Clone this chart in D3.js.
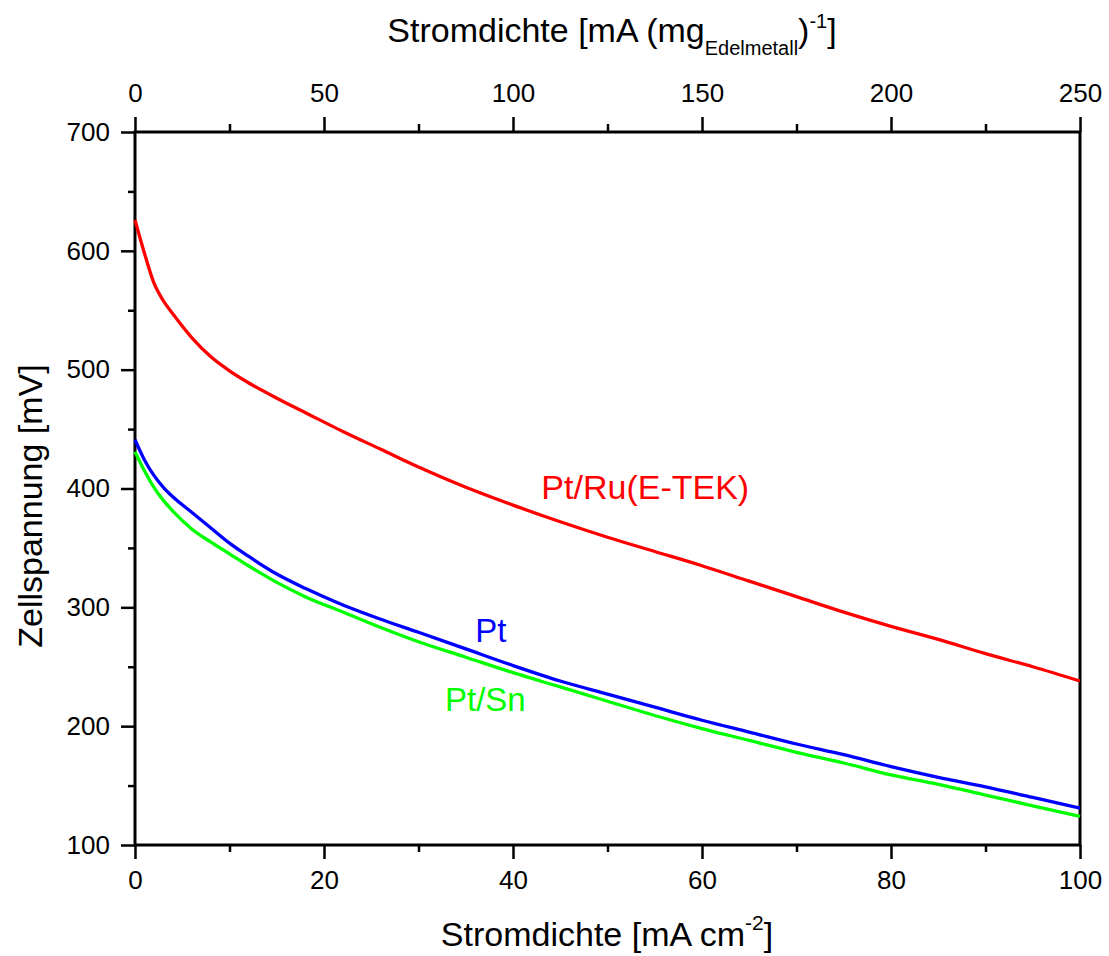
<!DOCTYPE html>
<html>
<head>
<meta charset="utf-8">
<script src="https://cdn.jsdelivr.net/npm/d3@7"></script>
<style>
  body { margin: 0; background: #fff; }
  svg text { font-family: Arial, "Liberation Sans", sans-serif; }
</style>
</head>
<body>
<div id="chart"></div>
<script>
// current density in mA cm^-2 (bottom axis)
var stromdichte = [0, 1, 2, 3, 4, 6, 8, 10, 12, 15, 18, 22, 26, 30, 35, 40, 45, 50, 55, 60, 65, 70, 75, 80, 85, 90, 95, 100];

// cell voltage in mV for each catalyst
var ptRu = [626, 598, 573, 558, 547, 527, 511, 499, 489, 476, 464, 448, 433, 418, 401, 386, 372, 359, 347, 335, 322, 309, 296, 284, 273, 261, 250, 238];
var pt   = [441, 424, 411, 401, 393, 380, 367, 354, 343, 328, 316, 302, 290, 279, 265, 251, 238, 227, 216, 205, 195, 185, 176, 166, 157, 149, 140, 131];
var ptSn = [431, 415, 401, 390, 381, 366, 355, 345, 335, 321, 309, 296, 283, 271, 258, 245, 233, 221, 209, 198, 188, 178, 169, 159, 151, 142, 133, 124];

var seriesNames = ["Pt/Ru(E-TEK)", "Pt", "Pt/Sn"];
var seriesColors = ["#ff0000", "#0000ff", "#00ff00"];
// where the curve labels sit, in data units
var labelPos = [[43, 391], [36, 271], [32.8, 213]];

var bottomTicks = [0, 20, 40, 60, 80, 100];
var bottomMinor = [10, 30, 50, 70, 90];
var topTicks = [0, 50, 100, 150, 200, 250];
var topMinor = [25, 75, 125, 175, 225];
var leftTicks = [100, 200, 300, 400, 500, 600, 700];
var leftMinor = [150, 250, 350, 450, 550, 650];

var width = 1109, height = 956;
var margin = {left: 135, top: 132, right: 29, bottom: 111};
var w = width - margin.left - margin.right,
    h = height - margin.top - margin.bottom;

var svg = d3.select("#chart").append("svg")
    .attr("width", width)
    .attr("height", height);

var g = svg.append("g").attr("transform", "translate(" + margin.left + "," + margin.top + ")");

var x = d3.scaleLinear().domain([0, 100]).range([0, w]);
var xTop = d3.scaleLinear().domain([0, 250]).range([0, w]);
var y = d3.scaleLinear().domain([100, 700]).range([h, 0]);

// axes: major ticks with labels, minor ticks without
function styleAxis(sel) {
    sel.select(".domain").remove();
    sel.selectAll("line").attr("stroke", "#000").attr("stroke-width", 2.5);
    sel.selectAll("text").attr("fill", "#000").style("font-size", "26px");
}

var gx = g.append("g").attr("transform", "translate(0," + h + ")")
    .call(d3.axisBottom(x).tickValues(bottomTicks).tickSize(14).tickFormat(d3.format("d")));
styleAxis(gx);
gx.selectAll("text").attr("dy", null).attr("y", 44);
var gx2 = g.append("g").attr("transform", "translate(0," + h + ")")
    .call(d3.axisBottom(x).tickValues(bottomMinor).tickSize(7).tickFormat(""));
styleAxis(gx2);

var gt = g.append("g")
    .call(d3.axisTop(xTop).tickValues(topTicks).tickSize(15).tickFormat(d3.format("d")));
styleAxis(gt);
gt.selectAll("text").attr("dy", null).attr("y", -30);
var gt2 = g.append("g")
    .call(d3.axisTop(xTop).tickValues(topMinor).tickSize(8).tickFormat(""));
styleAxis(gt2);

var gy = g.append("g")
    .call(d3.axisLeft(y).tickValues(leftTicks).tickSize(14).tickFormat(d3.format("d")));
styleAxis(gy);
gy.selectAll("text").attr("x", -25);
var gy2 = g.append("g")
    .call(d3.axisLeft(y).tickValues(leftMinor).tickSize(7).tickFormat(""));
styleAxis(gy2);

// frame
g.append("rect")
    .attr("width", w).attr("height", h)
    .attr("fill", "none").attr("stroke", "#000").attr("stroke-width", 3);

// curves
var line = d3.line()
    .x(function(d) { return x(d[0]); })
    .y(function(d) { return y(d[1]); })
    .curve(d3.curveMonotoneX);

[ptRu, pt, ptSn].forEach(function(vals, i) {
    var pts = stromdichte.map(function(u, j) { return [u, vals[j]]; });
    g.append("path")
        .datum(pts)
        .attr("d", line)
        .attr("fill", "none")
        .attr("stroke", seriesColors[i])
        .attr("stroke-width", 3.3);
    g.append("text")
        .attr("x", x(labelPos[i][0]))
        .attr("y", y(labelPos[i][1]))
        .attr("fill", seriesColors[i])
        .style("font-size", i === 0 ? "34px" : "33px")
        .text(seriesNames[i]);
});

// axis titles
var bt = svg.append("text")
    .attr("x", 607).attr("y", 946)
    .attr("text-anchor", "middle")
    .style("font-size", "34px");
bt.append("tspan").text("Stromdichte [mA cm");
bt.append("tspan").attr("dy", -16).style("font-size", "21px").text("-2");
bt.append("tspan").attr("dy", 16).text("]");

var tt = svg.append("text")
    .attr("x", 612).attr("y", 42)
    .attr("text-anchor", "middle")
    .style("font-size", "34px");
tt.append("tspan").text("Stromdichte [mA (mg");
tt.append("tspan").attr("dy", 13).style("font-size", "20px").text("Edelmetall");
tt.append("tspan").attr("dy", -13).text(")");
tt.append("tspan").attr("dy", -14).style("font-size", "20px").text("-1");
tt.append("tspan").attr("dy", 14).text("]");

svg.append("text")
    .attr("transform", "translate(42,506) rotate(-90)")
    .attr("text-anchor", "middle")
    .style("font-size", "34px")
    .text("Zellspannung [mV]");
</script>
</body>
</html>
